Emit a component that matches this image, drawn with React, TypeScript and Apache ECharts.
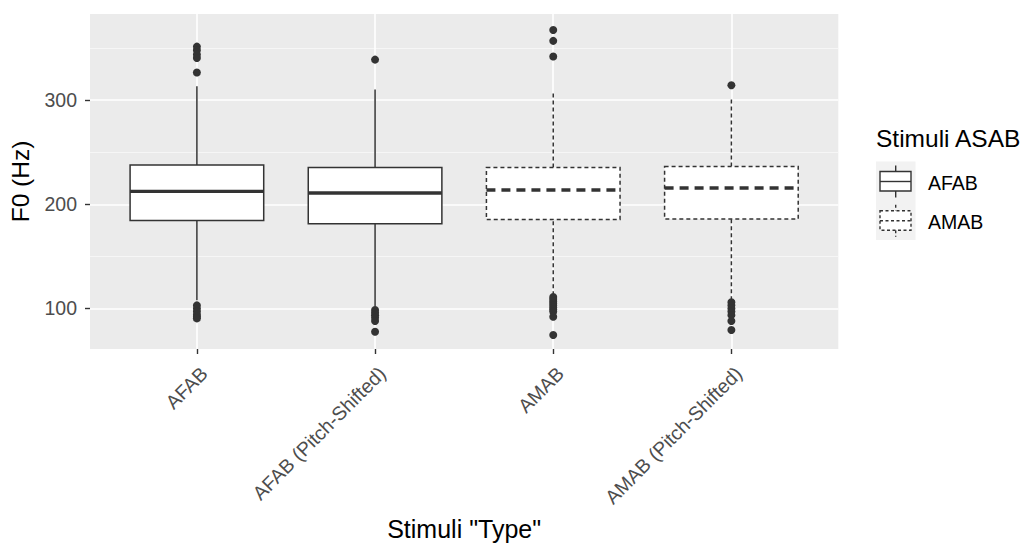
import React, { useEffect, useRef } from "react";
import * as echarts from "echarts";

const categories = ["AFAB", "AFAB (Pitch-Shifted)", "AMAB", "AMAB (Pitch-Shifted)"];
const groups = ["AFAB", "AFAB", "AMAB", "AMAB"];
const whiskerLow = [108, 101.6, 112.7, 108];
const q1 = [184.4, 181.3, 185.4, 186];
const median = [212.5, 210.9, 213.8, 215.7];
const q3 = [237.9, 235.4, 235.4, 236.4];
const whiskerHigh = [313.4, 310.2, 306.4, 300.7];
const outliers = [
  [351.5, 348, 344, 340.5, 326.7, 103, 100, 97, 94, 92, 90.5],
  [339, 98.5, 96, 93.5, 91, 88, 77.7],
  [367.5, 357, 342, 111, 109, 107, 105, 103, 101, 99, 97, 92, 74.5],
  [314.3, 106, 103, 100, 97, 93.6, 88, 79.3],
];
const yTicks = [100, 200, 300];
const yMinor = [150, 250, 350];
const legendTitle = "Stimuli ASAB";
const legendItems = ["AFAB", "AMAB"];
const xTitle = 'Stimuli "Type"';
const yTitle = "F0 (Hz)";

const FONT = "'Liberation Sans', Arial, sans-serif";
const INK = "#333333";

export default function App() {
  const ref = useRef<HTMLDivElement>(null);
  useEffect(() => {
    if (!ref.current) return;
    const chart = echarts.init(ref.current, null, { renderer: "svg" });
    const boxData = categories.map((_, i) => [
      i + 1,
      whiskerLow[i],
      q1[i],
      median[i],
      q3[i],
      whiskerHigh[i],
      groups[i] === "AMAB" ? 1 : 0,
    ]);
    const outlierData: number[][] = [];
    outliers.forEach((arr, i) => arr.forEach((v) => outlierData.push([i + 1, v])));

    const legendGraphics: any[] = [
      {
        type: "text",
        x: 876,
        y: 138,
        style: { text: legendTitle, font: `24.5px ${FONT}`, fill: "#000", verticalAlign: "middle" },
      },
      {
        type: "rect",
        shape: { x: 876, y: 161.5, width: 39.5, height: 78.5 },
        style: { fill: "#F2F2F2" },
      },
    ];
    legendItems.forEach((name, k) => {
      const oy = 161.5 + k * 39.2;
      const dash = k === 1 ? [3, 2.5] : null;
      const st = { stroke: INK, lineWidth: 1.4, fill: "none", lineDash: dash };
      legendGraphics.push(
        { type: "line", shape: { x1: 895.7, y1: oy + 4, x2: 895.7, y2: oy + 10 }, style: { ...st } },
        { type: "line", shape: { x1: 895.7, y1: oy + 29.5, x2: 895.7, y2: oy + 36 }, style: { ...st } },
        { type: "rect", shape: { x: 880, y: oy + 10, width: 31, height: 19.5 }, style: { ...st, fill: "#fff" } },
        { type: "line", shape: { x1: 880, y1: oy + 20, x2: 911, y2: oy + 20 }, style: { ...st } },
        {
          type: "text",
          x: 928,
          y: oy + 21,
          style: { text: name, font: `19.5px ${FONT}`, fill: "#000", verticalAlign: "middle" },
        }
      );
    });

    const option: any = {
      animation: false,
      grid: {
        left: 90,
        top: 14,
        right: 190.7,
        bottom: 195.3,
        show: true,
        backgroundColor: "#EBEBEB",
        borderWidth: 0,
      },
      xAxis: {
        type: "value",
        min: 0.4,
        max: 4.6,
        name: xTitle,
        nameLocation: "middle",
        nameGap: 167,
        nameTextStyle: { fontFamily: FONT, fontSize: 25, color: "#000" },
        axisLine: { show: false },
        axisTick: { show: true, length: 5, lineStyle: { color: INK, width: 1.4 }, customValues: [1, 2, 3, 4] },
        axisLabel: {
          customValues: [1, 2, 3, 4],
          formatter: (v: number) => categories[Math.round(v) - 1] ?? "",
          rotate: 45,
          align: "right",
          verticalAlign: "top",
          margin: 14,
          fontFamily: FONT,
          fontSize: 19.5,
          color: "#4D4D4D",
        },
        splitLine: { show: true, lineStyle: { color: "#FFFFFF", width: 1.6 } },
      },
      yAxis: [
        {
          type: "value",
          min: 61.1,
          max: 382.8,
          name: yTitle,
          nameLocation: "middle",
          nameGap: 57,
          nameTextStyle: { fontFamily: FONT, fontSize: 24.5, color: "#000" },
          axisLine: { show: false },
          axisTick: { show: true, length: 5, lineStyle: { color: INK, width: 1.4 }, customValues: yTicks },
          axisLabel: { customValues: yTicks, margin: 13, fontFamily: FONT, fontSize: 19.5, color: "#4D4D4D" },
          splitLine: { show: true, lineStyle: { color: "#FFFFFF", width: 1.6 } },
        },
        {
          type: "value",
          min: 61.1,
          max: 382.8,
          position: "left",
          axisLine: { show: false },
          axisTick: { show: false, customValues: yMinor },
          axisLabel: { show: false, customValues: yMinor },
          splitLine: { show: true, lineStyle: { color: "#F7F7F7", width: 0.9 } },
        },
      ],
      series: [
        {
          type: "custom",
          xAxisIndex: 0,
          yAxisIndex: 0,
          data: boxData,
          encode: { x: 0, y: [1, 2, 3, 4, 5] },
          renderItem: (params: any, api: any) => {
            const x = api.value(0);
            const dashed = api.value(6) === 1;
            const halfW = api.size([0.75, 0])[0] / 2;
            const pLow = api.coord([x, api.value(1)]);
            const pQ1 = api.coord([x, api.value(2)]);
            const pMed = api.coord([x, api.value(3)]);
            const pQ3 = api.coord([x, api.value(4)]);
            const pHigh = api.coord([x, api.value(5)]);
            const base = {
              stroke: INK,
              lineWidth: 1.5,
              fill: "none",
              lineDash: dashed ? [4, 3] : null,
            };
            return {
              type: "group",
              children: [
                { type: "line", shape: { x1: pLow[0], y1: pLow[1], x2: pQ1[0], y2: pQ1[1] }, style: { ...base } },
                { type: "line", shape: { x1: pQ3[0], y1: pQ3[1], x2: pHigh[0], y2: pHigh[1] }, style: { ...base } },
                {
                  type: "rect",
                  shape: { x: pQ3[0] - halfW, y: pQ3[1], width: halfW * 2, height: pQ1[1] - pQ3[1] },
                  style: { ...base, fill: "#FFFFFF" },
                },
                {
                  type: "line",
                  shape: { x1: pMed[0] - halfW, y1: pMed[1], x2: pMed[0] + halfW, y2: pMed[1] },
                  style: { ...base, lineWidth: 3.3, lineDash: dashed ? [9, 6] : null },
                },
              ],
            };
          },
          z: 2,
        },
        {
          type: "scatter",
          xAxisIndex: 0,
          yAxisIndex: 0,
          data: outlierData,
          symbol: "circle",
          symbolSize: 8,
          itemStyle: { color: INK, opacity: 1 },
          z: 3,
        },
      ],
      graphic: legendGraphics,
    };
    chart.setOption(option);
    return () => chart.dispose();
  }, []);
  return (
    <div
      ref={ref}
      style={{ position: "fixed", left: 0, top: 0, width: 1029, height: 546, background: "#fff" }}
    />
  );
}
